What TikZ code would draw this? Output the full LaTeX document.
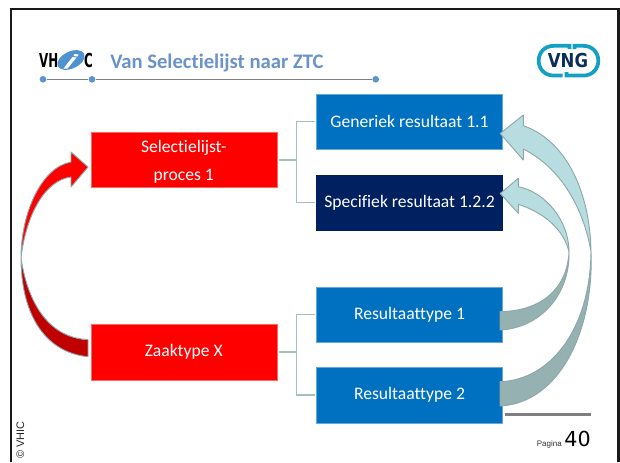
\documentclass[tikz,border=0pt]{standalone}
\usepackage{fontspec}
\setmainfont[Ligatures=NoCommon]{Carlito}
\newfontfamily\lib{Liberation Sans}
\newfontfamily\dej{DejaVu Sans}
\usetikzlibrary{calc}
\definecolor{brandblue}{HTML}{0070C0}
\definecolor{navybox}{HTML}{002060}
\definecolor{redbox}{HTML}{FF0000}
\definecolor{darkred}{HTML}{C00000}
\definecolor{connc}{HTML}{A3BFC4}
\definecolor{edgec}{HTML}{8FA8AB}
\definecolor{lightarrow}{HTML}{B7DDE0}
\definecolor{darkarrow}{HTML}{95B1B1}
\definecolor{titlec}{HTML}{6C93C9}
\definecolor{dotc}{HTML}{5B93CF}
\definecolor{rulec}{HTML}{7F7F7F}
\definecolor{vngteal}{HTML}{14A0C4}
\definecolor{vngnavy}{HTML}{0C2D5A}
\definecolor{ovalc}{HTML}{4F92CF}
\tikzset{
  x=0.75pt,y=-0.75pt,
  boxbase/.style={minimum width=139.5pt,minimum height=41.6pt,inner sep=0pt,text=white,
    font=\fontsize{13.2}{20.2}\selectfont,align=center,line width=0.3pt},
  bluebox/.style={boxbase,fill=brandblue,draw=brandblue!60!white},
  darkbox/.style={boxbase,fill=navybox,draw=navybox},
  rbox/.style={boxbase,fill=redbox,draw=redbox!60!white},
  conn/.style={draw=connc,line width=0.9pt},
  blockarrow/.style={draw=edgec,line width=0.7pt,line join=round},
  titledot/.style={circle,fill=dotc,inner sep=0pt,minimum size=5pt},
  logotext/.style={anchor=base west,inner sep=0pt,font=\fontsize{14.4}{16}\dej\bfseries,xscale=0.62},
  vngline/.style={draw=vngteal,line width=2.8pt},
}
\begin{document}
\begin{tikzpicture}
\path[use as bounding box] (0,0) rectangle (620,462);
\fill[white] (0,0) rectangle (620,462);
% frame
\draw[black!90,line width=2pt] (11,462) -- (11,9) -- (618.5,9) -- (618.5,462);
% title
\node[titledot] (d1) at (43,79.3) {};
\node[titledot] (d2) at (92,79.3) {};
\node[titledot] (d3) at (375.7,79.3) {};
\draw[rulec,line width=0.75pt] (d1) -- (d2);
\draw[rulec,line width=0.75pt] (d2) -- (d3);
\node[anchor=base west,inner sep=0pt,text=titlec,font=\fontsize{15.5}{18}\selectfont\bfseries] (title) at (110,68) {Van Selectielijst naar ZTC};
% VHIC logo
\node[logotext] (vh) at (39,67) {VH};
\node[logotext] (cc) at (84,67) {C};
\fill[ovalc,rotate around={25:(71,60)}] (71,60) ellipse (14.5 and 8.5);
\fill[white] (63.5,68.5) -- (67.5,68.5) -- (76.5,57.5) -- (72.5,57) -- cycle;
\fill[white] (74.5,54) -- (78.5,54.5) -- (77.5,56.5) -- (73.5,56) -- cycle;
% VNG logo
\draw[vngline] (569.5,49) -- (569.5,45.8) -- (554,45.8) .. controls (533.6,45.8) and (533.6,75.6) .. (554,75.6) -- (562.5,75.6);
\draw[vngline] (574.5,49) -- (574.5,45.8) -- (583,45.8) .. controls (603.4,45.8) and (603.4,75.6) .. (583,75.6) -- (566.5,75.6) -- (566.5,72);
\node[inner sep=0pt,font=\fontsize{14.4}{16}\dej\bfseries,text=vngnavy,xscale=0.86] (vng) at (568,60.5) {VNG};
% nodes and connectors
\node[rbox,text depth=0pt] (sel) at (183.75,159.75) {\raisebox{-0.75pt}{Selectielijst-}\\\raisebox{-1.2pt}{proces 1}};
\node[rbox] (zaak) at (183.75,352.25) {Zaaktype X};
\node[bluebox] (gen) at (409.5,121.75) {Generiek resultaat 1.1};
\node[darkbox] (spec) at (409.5,202.75) {Specifiek resultaat 1.2.2};
\node[bluebox] (res1) at (409.5,314.5) {Resultaattype 1};
\node[bluebox] (res2) at (409.5,395) {Resultaattype 2};
\coordinate (ja) at (296.7,159.75);
\coordinate (jb) at (296.7,352.25);
\draw[conn,line width=1.2pt,shorten <=1.5pt] (sel.east) -- (ja);
\draw[conn,shorten <=1pt,shorten >=1pt] (gen.west) -- (gen.west -| ja) -- (spec.west -| ja) -- (spec.west);
\draw[conn,line width=1.2pt,shorten <=1.5pt] (zaak.east) -- (jb);
\draw[conn,shorten <=1pt,shorten >=1pt] (res1.west) -- (res1.west -| jb) -- (res2.west -| jb) -- (res2.west);
% red block arrow
\coordinate (ltip) at ($(sel.west)+(-2.5,7.3)$);
\fill[darkred] (21,258) .. controls (21,310) and (42,352) .. (88,356.7) -- (88,340) .. controls (50,338) and (28,305) .. (21,258) -- cycle;
\draw[blockarrow] (21,258) .. controls (21,310) and (42,352) .. (88,356.7) -- (88,339.5) .. controls (50,338) and (28,305) .. (21,258);
\draw[blockarrow,fill=redbox] (21,258) .. controls (21,212) and (42,167) .. (71,162) -- (71,152) -- (ltip) -- (71,187) -- (71,177) .. controls (45,180) and (26,215) .. (21,258) -- cycle;
% right block arrows
\coordinate (atip) at ($(gen.south east)+(-2.5,-16.2)$);
\coordinate (btip) at ($(spec.south east)+(-2.5,-37.2)$);
\draw[blockarrow,fill=darkarrow] (591,252) .. controls (594,330) and (560,403) .. (500,406) -- (500,381.7) .. controls (550,380) and (590,330) .. (591,252) -- cycle;
\draw[blockarrow,fill=lightarrow] (591,252) .. controls (590,190) and (565,140) .. (523.3,125.7) -- (523.3,115) -- (atip) -- (523.3,160) -- (523.3,149) .. controls (565,170) and (585,215) .. (591,252) -- cycle;
\draw[blockarrow,fill=darkarrow] (569,252) .. controls (570,295) and (540,328) .. (500,330) -- (500,311.7) .. controls (540,311) and (567,290) .. (569,252) -- cycle;
\draw[blockarrow,fill=lightarrow] (569,252) .. controls (569,220) and (545,192) .. (518.3,186.7) -- (518.3,178.3) -- (btip) -- (518.3,213.3) -- (518.3,204.3) .. controls (545,213) and (564,230) .. (569,252) -- cycle;
% footer
\draw[rulec,line width=2pt] (504.5,414.3) -- (591,414.3);
\node[anchor=base east,inner sep=0pt,font=\fontsize{15.5}{16}\dej] (num) at (591,446) {40};
\node[anchor=base east,inner sep=0pt,font=\fontsize{6}{7}\lib,text=black!80] (pag) at (562,446) {Pagina};
\node[rotate=90,anchor=base west,inner sep=0pt,font=\fontsize{8.2}{9}\lib,text=black!85] (copy) at (24,459) {© VHIC};
\end{tikzpicture}
\end{document}
